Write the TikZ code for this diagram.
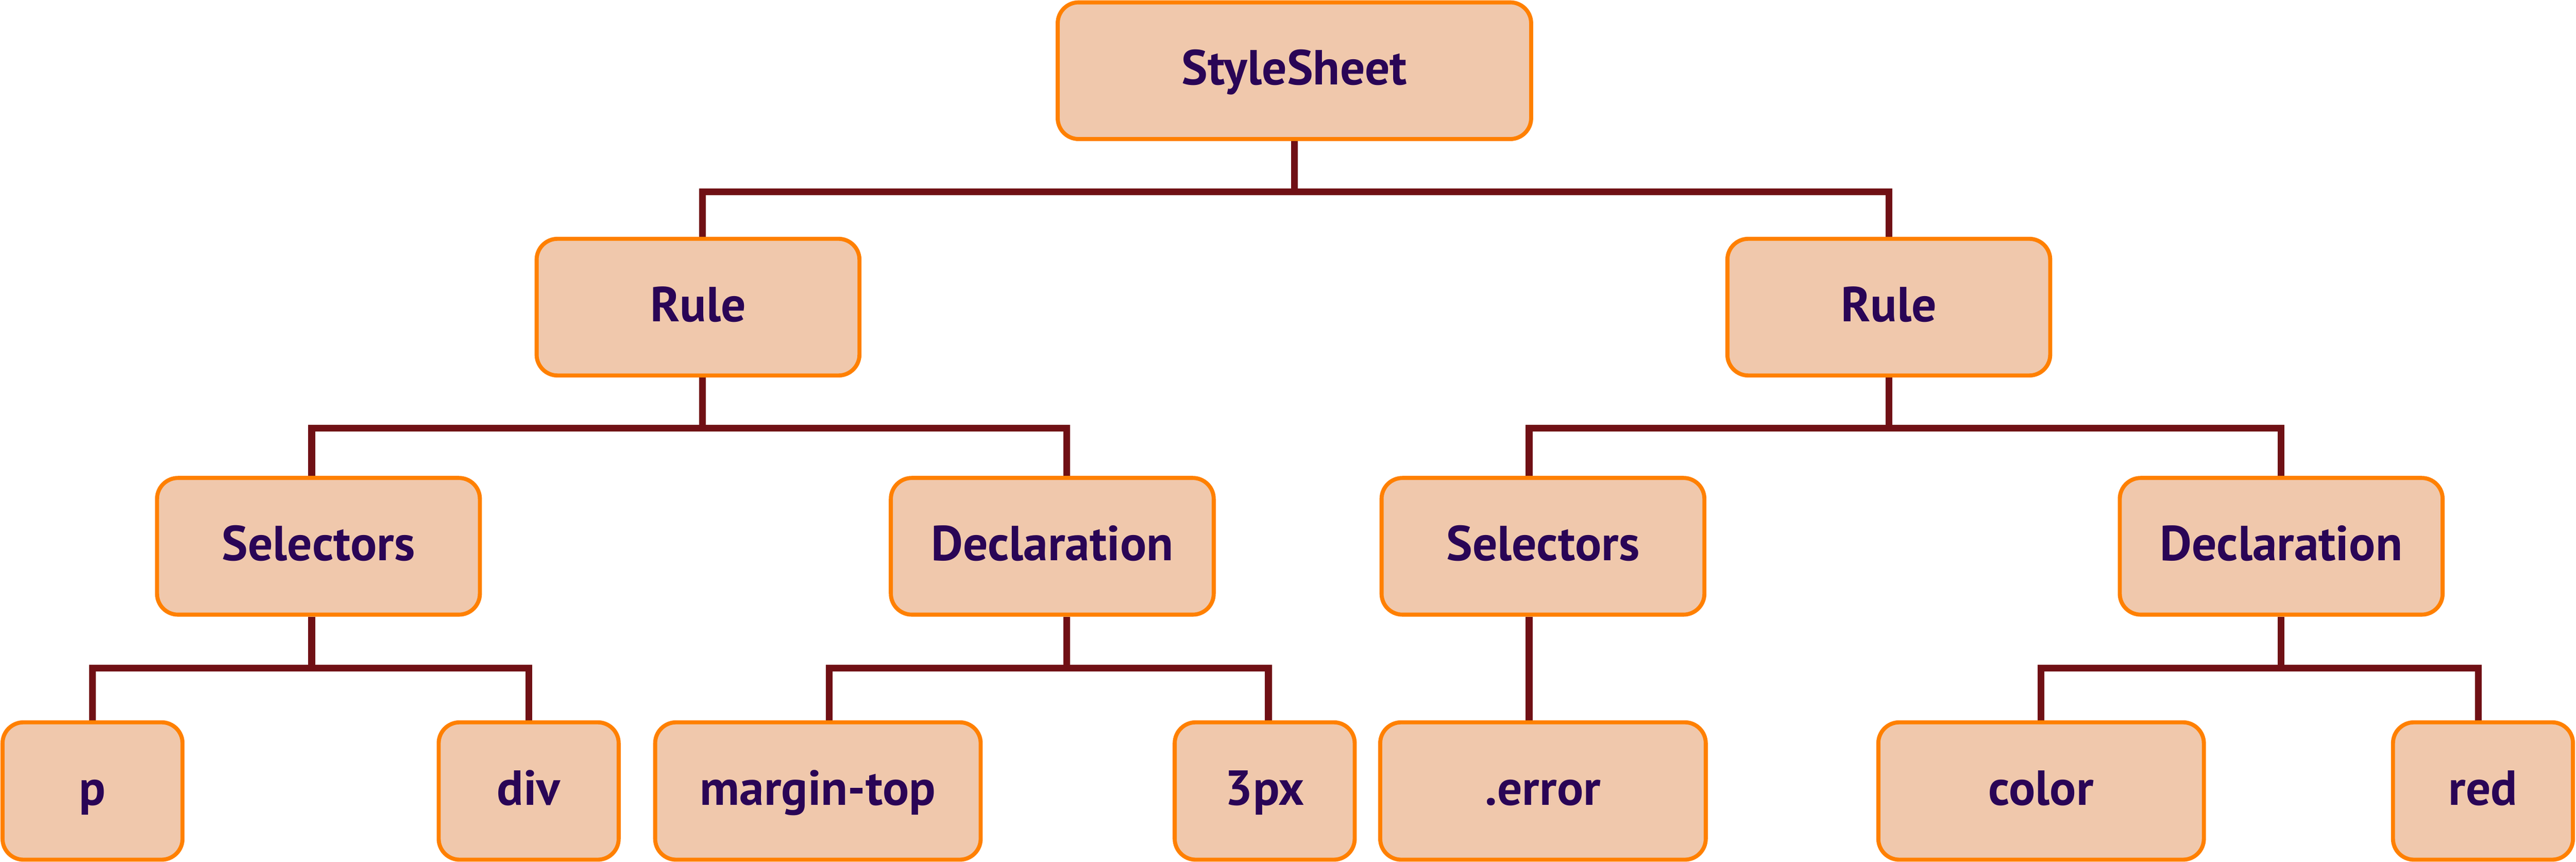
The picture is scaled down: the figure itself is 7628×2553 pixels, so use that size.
\documentclass[tikz,border=0pt]{standalone}
\usepackage{fontspec}
\setmainfont{PT Sans}
\usetikzlibrary{backgrounds}

\definecolor{boxfill}{HTML}{F0C8AC}
\definecolor{boxline}{HTML}{FF8000}
\definecolor{linkcol}{HTML}{701015}
\definecolor{boxtext}{HTML}{2A0556}

\tikzset{
  box/.style={draw=boxline, fill=boxfill, line width=1.2mm, rounded corners=6.2mm,
    text=boxtext, font=\fontsize{41.5}{50}\selectfont\bfseries, inner sep=0pt,
    text height=10.2mm, text depth=1.8mm,
    minimum width=95.6mm, minimum height=40.5mm, anchor=center},
  wide/.style={box, minimum width=140.2mm},
  leaf/.style={box, minimum width=96.4mm, minimum height=40.7mm},
  small/.style={box, minimum width=53.3mm, minimum height=40.7mm},
  link/.style={draw=linkcol, line width=2mm}
}

\begin{document}
\begin{tikzpicture}[x=0.1mm,y=-0.1mm]
    \useasboundingbox (0,0) rectangle (7628,2553);
    % heights of the bars
    \coordinate (lev1) at (0,568);
    \coordinate (lev2) at (0,1269);
    \coordinate (lev3) at (0,1979);

    \node[wide] (sheet) at (3833,209.5) {StyleSheet};
    \node[box] (rulel) at (2067,910) {Rule};
    \node[box] (ruler) at (5593,910) {Rule};
    \node[box] (sell) at (943,1618.5) {Selectors};
    \node[box] (decl) at (3116,1618.5) {Declaration};
    \node[box] (selr) at (4569,1618.5) {Selectors};
    \node[box] (decr) at (6755,1618.5) {Declaration};
    \foreach \nm/\st/\x/\txt in {p/small/274/p, div/small/1565.5/div,
        margin/leaf/2422/margin-top, px3/small/3745/3px, error/leaf/4569/.error,
        color/leaf/6044/color, red/small/7352.5/red}
      \node[\st] (\nm) at (\x,2343.5) {\txt};

    \begin{scope}[on background layer]
      % stems
      \draw[link] (sheet.south) -- (sheet.south |- lev1);
      \draw[link] ([xshift=1.3mm]rulel.south) -- ([xshift=1.3mm]rulel.south |- lev2);
      \draw[link] (ruler.south) -- (ruler.south |- lev2);
      \draw[link] ([xshift=-2mm]sell.south) -- ([xshift=-2mm]sell.south |- lev3);
      \draw[link] ([xshift=4.3mm]decl.south) -- ([xshift=4.3mm]decl.south |- lev3);
      \draw[link] (decr.south) -- (decr.south |- lev3);
      % bars
      \draw[link] ([xshift=1.3mm]rulel.north) -- ([xshift=1.3mm]rulel.north |- lev1) -| (ruler.north);
      \draw[link] ([xshift=-2mm]sell.north) -- ([xshift=-2mm]sell.north |- lev2) -| ([xshift=4.3mm]decl.north);
      \draw[link] ([xshift=-4.1mm]selr.north) -- ([xshift=-4.1mm]selr.north |- lev2) -| (decr.north);
      \draw[link] (p.north) -- (p.north |- lev3) -| (div.north);
      \draw[link] ([xshift=3.3mm]margin.north) -- ([xshift=3.3mm]margin.north |- lev3) -| ([xshift=1.1mm]px3.north);
      \draw[link] (color.north) -- (color.north |- lev3) -| ([xshift=-1.4mm]red.north);
      \draw[link] ([xshift=-4.1mm]selr.south) -- ([xshift=-4.1mm]error.north);
    \end{scope}
\end{tikzpicture}
\end{document}
